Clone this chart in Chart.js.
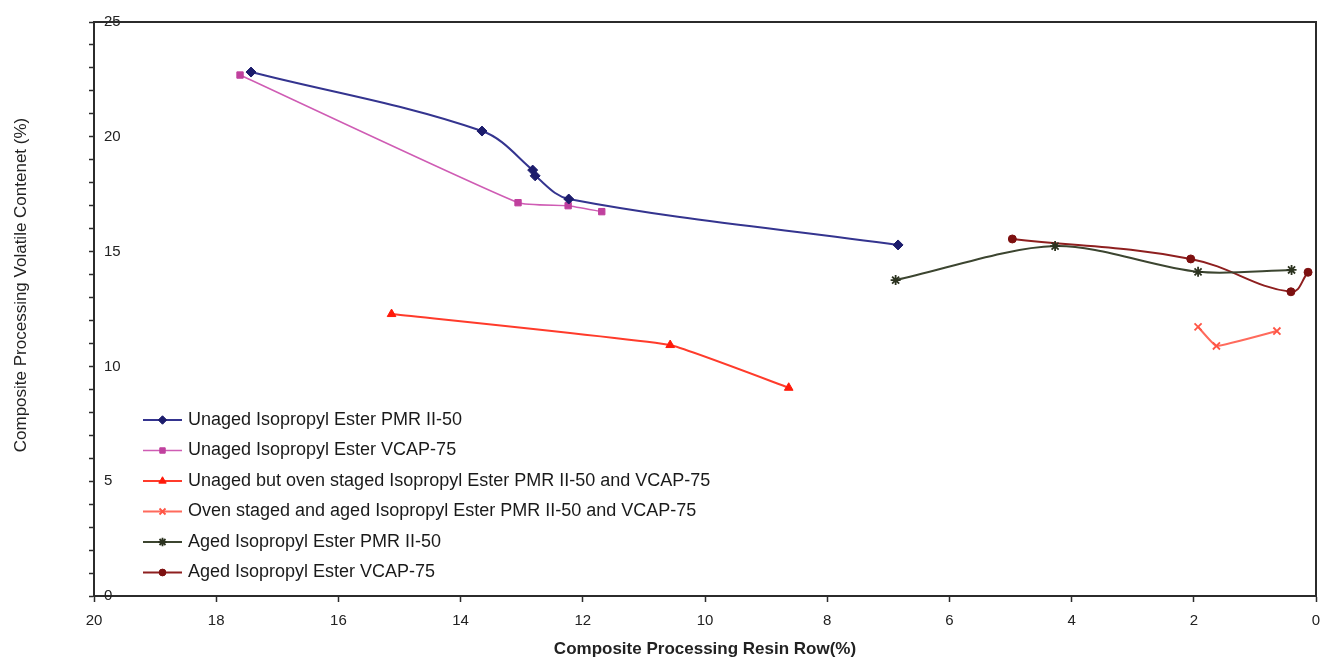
<!DOCTYPE html>
<html>
<head>
<meta charset="utf-8">
<script src="https://cdn.jsdelivr.net/npm/chart.js@4.4.1/dist/chart.umd.min.js"></script>
<style>
  html, body { margin: 0; padding: 0; background: #ffffff; }
  #wrap { width: 1323px; height: 657px; position: relative; }
</style>
</head>
<body>
<div id="wrap"><canvas id="c" width="1323" height="657"></canvas></div>
<script>
// ---- Data ----
const seriesLabels = [
  "Unaged Isopropyl Ester PMR II-50",
  "Unaged Isopropyl Ester VCAP-75",
  "Unaged but oven staged Isopropyl Ester PMR II-50 and VCAP-75",
  "Oven staged and aged Isopropyl Ester PMR II-50 and VCAP-75",
  "Aged Isopropyl Ester PMR II-50",
  "Aged Isopropyl Ester VCAP-75"
];
const unagedPmrX = [17.43, 13.65, 12.82, 12.78, 12.23, 6.84];
const unagedPmrY = [22.82, 20.25, 18.55, 18.30, 17.29, 15.29];
const unagedVcapX = [17.61, 13.06, 12.24, 11.69];
const unagedVcapY = [22.69, 17.13, 17.00, 16.74];
const ovenUnagedX = [15.13, 10.57, 8.63];
const ovenUnagedY = [12.28, 10.93, 9.07];
const ovenAgedX = [1.93, 1.63, 0.64];
const ovenAgedY = [11.72, 10.89, 11.54];
const agedPmrX = [6.88, 4.27, 1.93, 0.40];
const agedPmrY = [13.76, 15.24, 14.12, 14.20];
const agedVcapX = [4.97, 2.05, 0.41, 0.13];
const agedVcapY = [15.55, 14.68, 13.25, 14.10];

const xTicks = [20, 18, 16, 14, 12, 10, 8, 6, 4, 2, 0];
const yTickLabels = [0, 5, 10, 15, 20, 25];

const xTitle = "Composite Processing Resin Row(%)";
const yTitle = "Composite Processing Volatile Contenet (%)";

function pts(xs, ys) { return xs.map((x, i) => ({ x: x, y: ys[i] })); }

const styles = [
  { color: '#34348f', point: '#1c1c6c', style: 'rectRot', r: 5, bw: 2, tension: 0.35 },
  { color: '#cf5cb4', point: '#c0409e', style: 'rect', r: 4.5, bw: 1.5, tension: 0.15 },
  { color: '#ff3b2b', point: '#ff1a0a', style: 'triangle', r: 5, bw: 2, tension: 0.1 },
  { color: '#ff6a5c', point: '#ff5545', style: 'crossRot', r: 5, bw: 2, tension: 0.1 },
  { color: '#3c4530', point: '#2c3320', style: 'star', r: 5, bw: 2, tension: 0.3 },
  { color: '#8e1f1f', point: '#7d1010', style: 'circle', r: 4, bw: 2, tension: 0.4 }
];
const rawSeries = [
  pts(unagedPmrX, unagedPmrY),
  pts(unagedVcapX, unagedVcapY),
  pts(ovenUnagedX, ovenUnagedY),
  pts(ovenAgedX, ovenAgedY),
  pts(agedPmrX, agedPmrY),
  pts(agedVcapX, agedVcapY)
];

const datasets = rawSeries.map((d, i) => ({
  label: seriesLabels[i],
  data: d,
  borderColor: styles[i].color,
  backgroundColor: styles[i].point,
  pointBackgroundColor: styles[i].point,
  pointBorderColor: styles[i].point,
  pointStyle: styles[i].style,
  pointRadius: styles[i].r,
  pointBorderWidth: (styles[i].style === 'crossRot' || styles[i].style === 'star') ? 1.8 : 1,
  borderWidth: styles[i].bw,
  tension: styles[i].tension,
  showLine: true,
  fill: false
}));

const AXIS_COLOR = '#2b2b2b';

const framePlugin = {
  id: 'frame',
  afterDraw(chart) {
    const { ctx, chartArea: a } = chart;
    ctx.save();
    ctx.strokeStyle = AXIS_COLOR;
    ctx.lineWidth = 2;
    ctx.beginPath();
    ctx.moveTo(a.left, a.top);
    ctx.lineTo(a.right, a.top);
    ctx.lineTo(a.right, a.bottom);
    ctx.stroke();
    // y-axis title
    ctx.fillStyle = '#222';
    ctx.font = '17px "Liberation Sans", Arial, sans-serif';
    ctx.textAlign = 'center';
    ctx.textBaseline = 'middle';
    ctx.translate(21, 285);
    ctx.rotate(-Math.PI / 2);
    ctx.fillText(yTitle, 0, 0);
    ctx.restore();
  }
};

function drawMarker(ctx, style, r, x, y, color, bw) {
  ctx.save();
  ctx.fillStyle = color;
  ctx.strokeStyle = color;
  ctx.lineWidth = bw;
  if (Chart.helpers && Chart.helpers.drawPoint) {
    Chart.helpers.drawPoint(ctx, { pointStyle: style, radius: r, borderWidth: bw, rotation: 0 }, x, y);
  }
  ctx.restore();
}

const legendPlugin = {
  id: 'insideLegend',
  afterDatasetsDraw(chart) {
    const { ctx } = chart;
    const x0 = 143, x1 = 182, tx = 188, y0 = 420, dy = 30.5;
    ctx.save();
    ctx.font = '18px "Liberation Sans", Arial, sans-serif';
    ctx.textBaseline = 'middle';
    ctx.textAlign = 'left';
    chart.data.datasets.forEach((ds, i) => {
      const y = y0 + i * dy;
      ctx.strokeStyle = ds.borderColor;
      ctx.lineWidth = ds.borderWidth;
      ctx.beginPath();
      ctx.moveTo(x0, y);
      ctx.lineTo(x1, y);
      ctx.stroke();
      drawMarker(ctx, ds.pointStyle, ds.pointRadius * 0.85, (x0 + x1) / 2, y, ds.pointBackgroundColor, ds.pointBorderWidth);
      ctx.fillStyle = '#1a1a1a';
      ctx.fillText(ds.label, tx, y);
    });
    ctx.restore();
  }
};

new Chart(document.getElementById('c'), {
  type: 'scatter',
  data: { datasets: datasets },
  options: {
    responsive: false,
    animation: false,
    layout: { padding: { top: 22, right: 7, left: 0, bottom: 0 } },
    plugins: { legend: { display: false }, tooltip: { enabled: false }, title: { display: false } },
    scales: {
      x: {
        type: 'linear',
        position: 'bottom',
        reverse: true,
        min: 0,
        max: 20,
        afterBuildTicks(scale) { scale.ticks = xTicks.map(v => ({ value: v })); },
        afterFit(scale) { scale.height = 61; scale.paddingLeft = 0; scale.paddingRight = 0; },
        ticks: {
          color: '#222',
          font: { family: '"Liberation Sans", Arial, sans-serif', size: 15 },
          padding: 10,
          maxRotation: 0,
          autoSkip: false
        },
        grid: { drawOnChartArea: false, drawTicks: true, tickLength: 6, tickColor: AXIS_COLOR, tickWidth: 1.5 },
        border: { display: true, color: AXIS_COLOR, width: 2 },
        title: {
          display: true,
          text: xTitle,
          color: '#222',
          font: { family: '"Liberation Sans", Arial, sans-serif', size: 17, weight: 'bold' },
          padding: { top: 0, bottom: -3 }
        }
      },
      y: {
        type: 'linear',
        position: 'left',
        min: 0,
        max: 25,
        ticks: {
          stepSize: 1,
          mirror: true,
          padding: 10,
          color: '#222',
          font: { family: '"Liberation Sans", Arial, sans-serif', size: 15 },
          autoSkip: false,
          callback(v) { return yTickLabels.includes(v) ? String(v) : ''; }
        },
        afterFit(scale) { scale.width = 94; scale.paddingTop = 0; scale.paddingBottom = 0; },
        grid: { drawOnChartArea: false, drawTicks: true, tickLength: 5, tickColor: AXIS_COLOR, tickWidth: 1.5 },
        border: { display: true, color: AXIS_COLOR, width: 2 }
      }
    }
  },
  plugins: [framePlugin, legendPlugin]
});
</script>
</body>
</html>
